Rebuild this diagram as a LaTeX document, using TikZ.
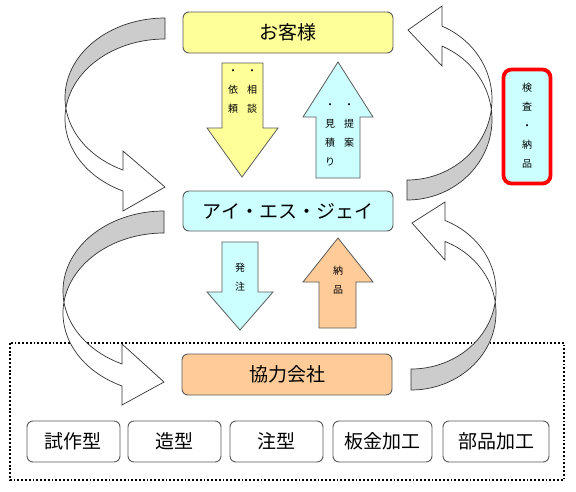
\documentclass[tikz,border=0pt]{standalone}
\usepackage{fontspec}
\newfontfamily\cjk{Noto Sans CJK JP}
\definecolor{cyel}{HTML}{FFFF99}
\definecolor{ccyan}{HTML}{CCFFFF}
\definecolor{corange}{HTML}{FFCC99}
\definecolor{cgrayfill}{HTML}{CCCCCC}
\definecolor{cline}{HTML}{5A5A5A}
\begin{document}
\begin{tikzpicture}[x=1pt,y=-1pt,
  mainbox/.style={draw=cline,line width=0.9pt,rounded corners=6pt,minimum width=210pt,minimum height=40pt,inner sep=0pt,font=\cjk\fontsize{19}{19}\selectfont},
  subbox/.style={draw=cline,line width=0.9pt,fill=white,rounded corners=6pt,minimum height=41pt,inner sep=0pt,font=\cjk\fontsize{19}{19}\selectfont},
  blockarrow/.style={draw=cline,line width=0.8pt},
  backband/.style={draw=black!80,line width=0.7pt,fill=cgrayfill},
  frontband/.style={draw=black!80,line width=0.7pt,fill=white},
  smalltxt/.style={inner sep=0pt,align=center,font=\cjk\fontsize{10}{19}\selectfont}
]
\useasboundingbox (0,0) rectangle (576,491);
\fill[white] (0,0) rectangle (576,491);

% dotted group frame
\draw[line width=1.9pt,dash pattern=on 1.9pt off 1.9pt] (10,343) rectangle (564,480);

% curved arrow A1 (top left)
\filldraw[backband] plot[domain=-90:-187.6,samples=50] ({165+100*cos(\x)},{97.7+79.7*sin(\x)})
  -- plot[domain=-172.4:-90,samples=50] ({165+100*cos(\x)},{118.7+79.7*sin(\x)}) -- cycle;
\filldraw[frontband] plot[domain=-187.6:-245.2,samples=50] ({165+100*cos(\x)},{97.7+79.7*sin(\x)})
  -- (123,151) -- (165,187) -- (123,211)
  -- plot[domain=-245.2:-172.4,samples=50] ({165+100*cos(\x)},{118.7+79.7*sin(\x)}) -- cycle;

% curved arrow A2 (bottom left)
\filldraw[backband] plot[domain=-90:-187.9,samples=50] ({164+101*cos(\x)},{291.1+80.1*sin(\x)})
  -- plot[domain=-172.1:-90,samples=50] ({164+101*cos(\x)},{313.1+80.1*sin(\x)}) -- cycle;
\filldraw[frontband] plot[domain=-187.9:-245.4,samples=50] ({164+101*cos(\x)},{291.1+80.1*sin(\x)})
  -- (122,344) -- (164,382) -- (122,405)
  -- plot[domain=-245.4:-172.1,samples=50] ({164+101*cos(\x)},{313.1+80.1*sin(\x)}) -- cycle;

% curved arrow A3 (top right)
\filldraw[backband] plot[domain=90:-7.1,samples=50] ({407+85*cos(\x)},{119.5+80.5*sin(\x)})
  -- plot[domain=7.1:90,samples=50] ({407+85*cos(\x)},{99.5+80.5*sin(\x)}) -- cycle;
\filldraw[frontband] plot[domain=-7.1:-65.7,samples=50] ({407+85*cos(\x)},{119.5+80.5*sin(\x)})
  -- (442,66) -- (408,30) -- (442,6)
  -- plot[domain=-65.7:7.1,samples=50] ({407+85*cos(\x)},{99.5+80.5*sin(\x)}) -- cycle;

% curved arrow A4 (bottom right)
\filldraw[backband] plot[domain=90:-7.8,samples=50] ({411+85*cos(\x)},{312.5+77.5*sin(\x)})
  -- plot[domain=7.8:90,samples=50] ({411+85*cos(\x)},{291.5+77.5*sin(\x)}) -- cycle;
\filldraw[frontband] plot[domain=-7.8:-66.4,samples=50] ({411+85*cos(\x)},{312.5+77.5*sin(\x)})
  -- (445,260) -- (412,223) -- (445,202)
  -- plot[domain=-66.4:7.8,samples=50] ({411+85*cos(\x)},{291.5+77.5*sin(\x)}) -- cycle;

% main boxes
\node[mainbox,fill=cyel,minimum height=41pt] (cust) at (288,32.5) {お客様};
\node[mainbox,fill=ccyan] (isj) at (288,211) {アイ・エス・ジェイ};
\node[mainbox,fill=corange,minimum height=41pt] (coop) at (287,374.5) {協力会社};

% block arrows
\filldraw[blockarrow,fill=cyel] (222,63) -- (263,63) -- (263,128) -- (278,128) -- (242,177) -- (207,128) -- (222,128) -- cycle;
\filldraw[blockarrow,fill=ccyan] (316,178) -- (360,178) -- (360,117) -- (373,117) -- (338,62) -- (303,117) -- (316,117) -- cycle;
\filldraw[blockarrow,fill=ccyan] (222,242) -- (258,242) -- (258,292) -- (273,292) -- (240,330) -- (207,292) -- (222,292) -- cycle;
\filldraw[blockarrow,fill=corange] (319,328) -- (356,328) -- (356,282) -- (373,282) -- (338,238) -- (303,282) -- (319,282) -- cycle;

% arrow texts
\node[smalltxt] (sodan) at (252,91) {・\\相\\談};
\node[smalltxt] (irai) at (233,91) {・\\依\\頼};
\node[smalltxt] (teian) at (349,125) {・\\提\\案};
\node[smalltxt] (mitsu) at (330,134.5) {・\\見\\積\\り};
\node[smalltxt] (hatchu) at (240,277.5) {発\\注};
\node[smalltxt] (nohin) at (338,280.5) {納\\品};

% inspection box
\node[draw=red,line width=3.8pt,fill=ccyan,rounded corners=8pt,minimum width=47pt,minimum height=114pt,inner sep=0pt] (kensa) at (527,126.5) {};
\node[smalltxt] (kensatxt) at (527,126) {検\\査\\・\\納\\品};

% sub boxes
\node[subbox,minimum width=93pt] (s1) at (73.5,441.5) {試作型};
\node[subbox,minimum width=93pt] (s2) at (174.5,441.5) {造型};
\node[subbox,minimum width=93pt] (s3) at (276.5,441.5) {注型};
\node[subbox,minimum width=99pt] (s4) at (382.5,441.5) {板金加工};
\node[subbox,minimum width=106pt] (s5) at (496,441.5) {部品加工};
\end{tikzpicture}
\end{document}
